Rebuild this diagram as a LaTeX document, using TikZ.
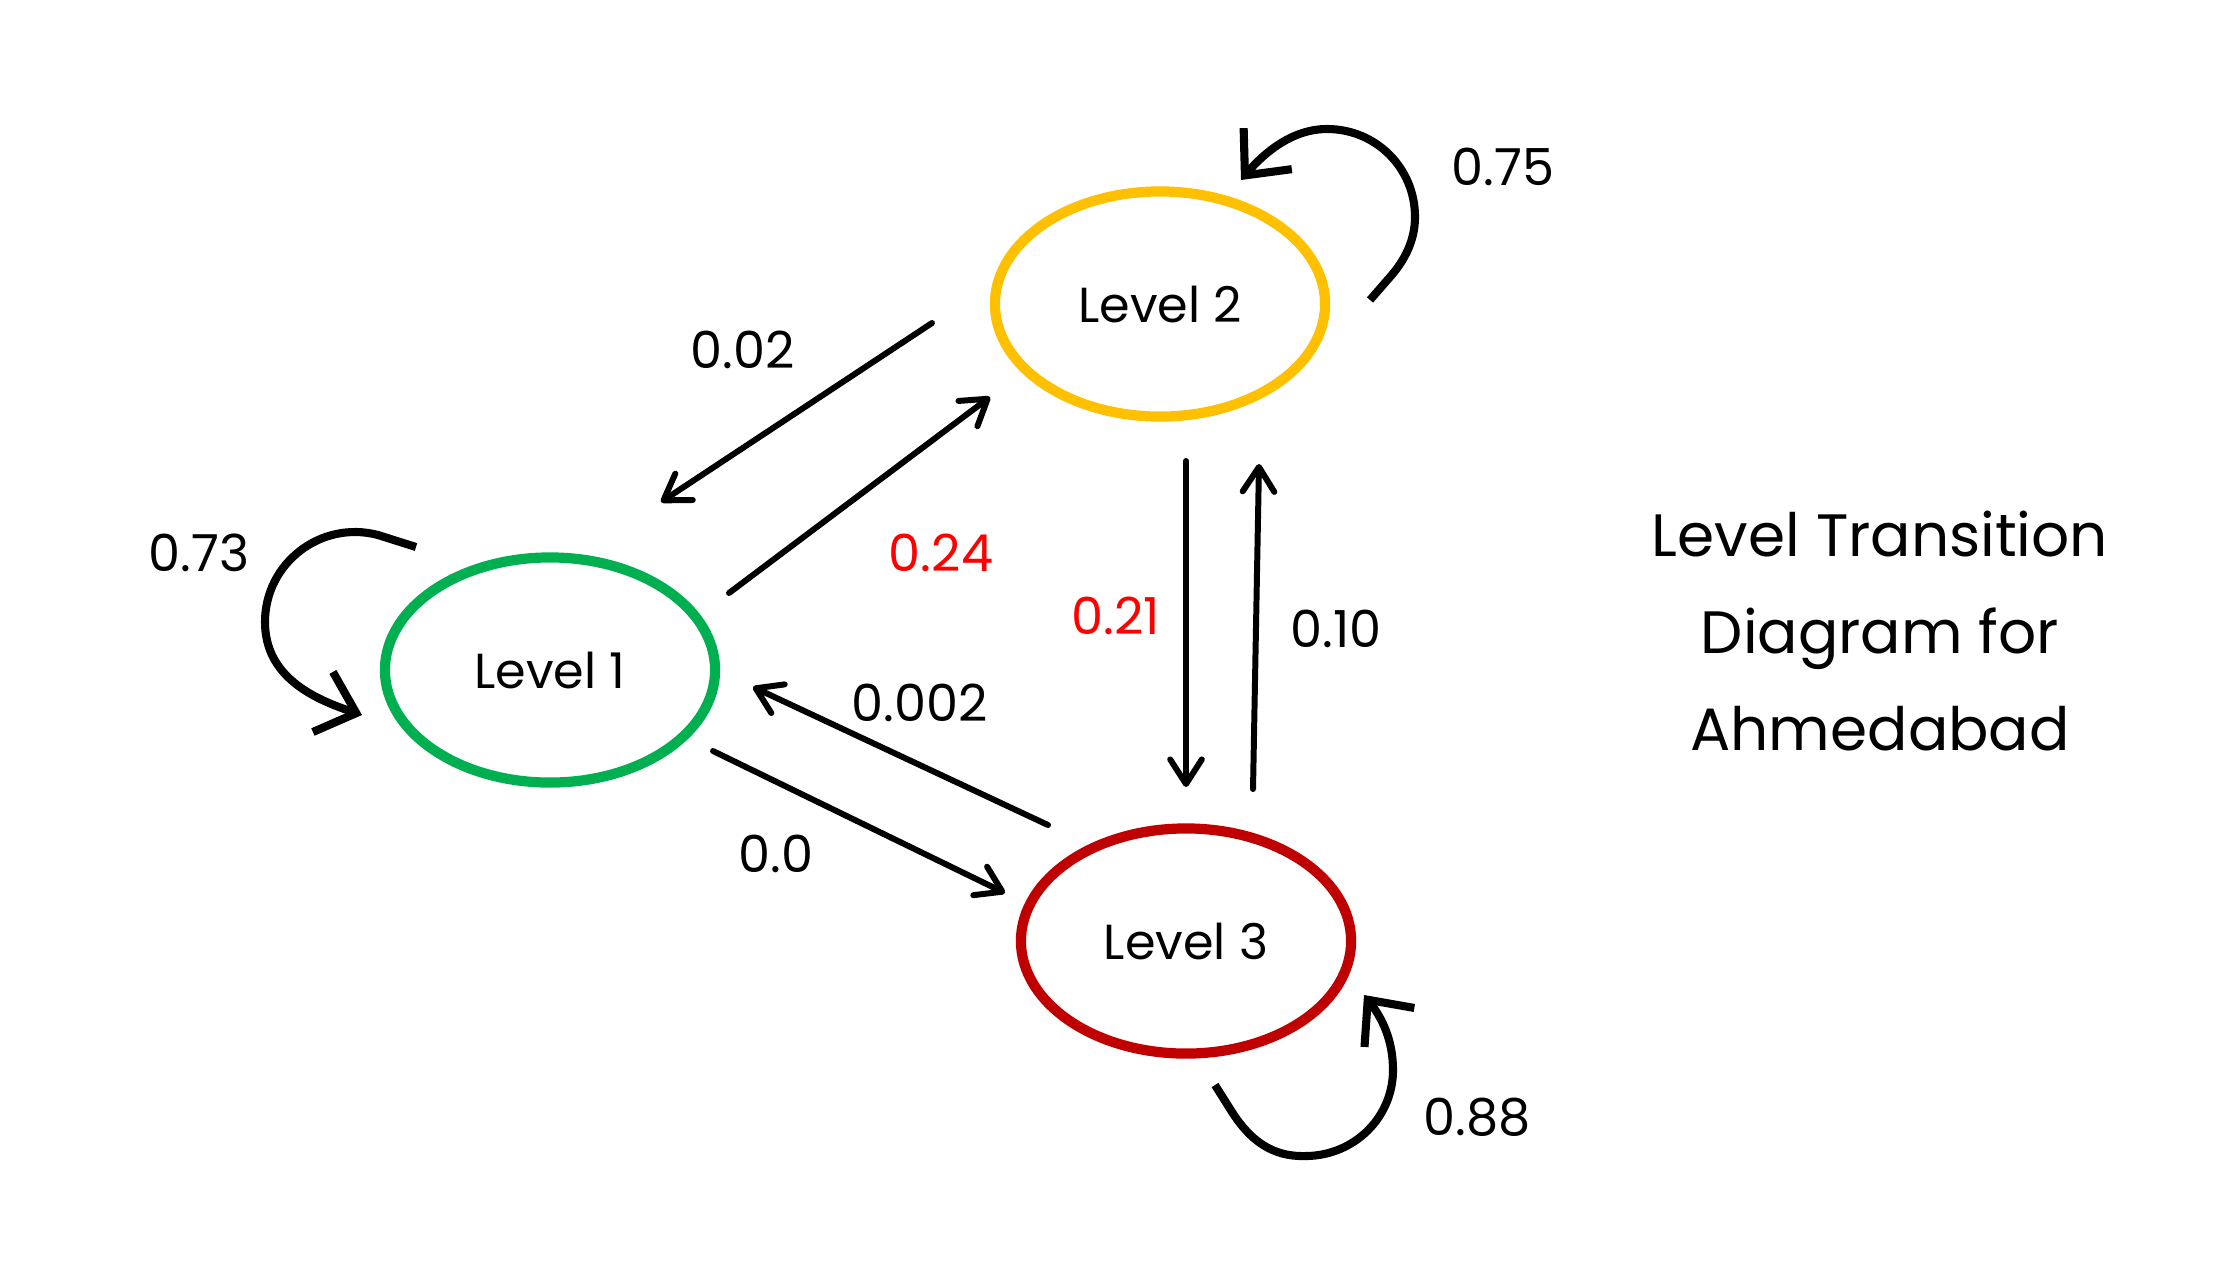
\documentclass[tikz,border=0pt]{standalone}
\usepackage{fontspec}
\setmainfont{Poppins}
\usetikzlibrary{arrows.meta,shapes.geometric}
\definecolor{lvgreen}{HTML}{00B050}
\definecolor{lvyellow}{HTML}{FFC000}
\definecolor{lvred}{HTML}{C00000}
\definecolor{probred}{HTML}{FF0000}
\begin{document}
\begin{tikzpicture}[x=0.01cm,y=-0.01cm,
  state/.style={ellipse,draw,line width=2.9pt,minimum width=3.3cm,minimum height=2.25cm,inner sep=0pt,
    font=\fontsize{14}{17}\selectfont},
  prob/.style={font=\fontsize{14.5}{17}\selectfont,inner sep=0pt},
  arr/.style={line width=1.7pt,line cap=round,-{Straight Barb[length=7pt,width=9pt,line join=round,line cap=round]}},
  loopa/.style={line width=2.3pt,-{Straight Barb[length=10pt,width=18pt,line join=miter]}}]
\useasboundingbox (0,0) rectangle (2240,1260);

% states
\node[state,draw=lvgreen] (l1) at (550,670) {Level 1};
\node[state,draw=lvyellow] (l2) at (1160,304) {Level 2};
\node[state,draw=lvred] (l3) at (1186,941) {Level 3};

% arrow end points
\coordinate (a21s) at (932,323);  \coordinate (a21e) at (661,502);
\coordinate (a12s) at (729,593);  \coordinate (a12e) at (990,397);
\coordinate (a31s) at (1048,825); \coordinate (a31e) at (753,687);
\coordinate (a13s) at (713,751);  \coordinate (a13e) at (1005,893);
\coordinate (a23s) at (1186,461); \coordinate (a23e) at (1186,787);
\coordinate (a32s) at (1253,789); \coordinate (a32e) at (1259,464);

\draw[arr] (a21s) -- (a21e);
\draw[arr] (a12s) -- (a12e);
\draw[arr] (a31s) -- (a31e);
\draw[arr] (a13s) -- (a13e);
\draw[arr] (a23s) -- (a23e);
\draw[arr] (a32s) -- (a32e);

% self loops
\coordinate (s1s) at (416,547); \coordinate (s1e) at (362,715);
\draw[loopa] (s1s) -- (378,535) .. controls (321,520) and (265,563) .. (265,622)
  .. controls (265,677) and (314,699) .. (s1e);
\coordinate (s2s) at (1370,300); \coordinate (s2e) at (1241,180);
\draw[loopa] (s2s) -- (1390,277) .. controls (1405,260) and (1415,240) .. (1415,217)
  .. controls (1415,168) and (1376,129) .. (1327,129)
  .. controls (1292,129) and (1264,153) .. (s2e);
\coordinate (s3s) at (1215,1085); \coordinate (s3e) at (1364,995);
\draw[loopa] (s3s) -- (1232,1112) .. controls (1255,1148) and (1280,1157) .. (1307,1156)
  .. controls (1355,1155) and (1393,1117) .. (1393,1070)
  .. controls (1393,1040) and (1382,1018) .. (s3e);

% probabilities
\node[prob] (p11) at (199,553) {0.73};
\node[prob] (p22) at (1503,167) {0.75};
\node[prob] (p33) at (1477,1117) {0.88};
\node[prob] (p21) at (743,350) {0.02};
\node[prob,text=probred] (p12) at (941,553) {0.24};
\node[prob,text=probred] (p23) at (1116,616) {0.21};
\node[prob] (p32) at (1336,629) {0.10};
\node[prob] (p31) at (920,703) {0.002};
\node[prob] (p13) at (776,854) {0.0};

% title
\node[align=center,inner sep=0pt,font=\fontsize{17}{27.6}\selectfont] (title) at (1880,631)
  {Level Transition\\Diagram for\\Ahmedabad};
\end{tikzpicture}
\end{document}
